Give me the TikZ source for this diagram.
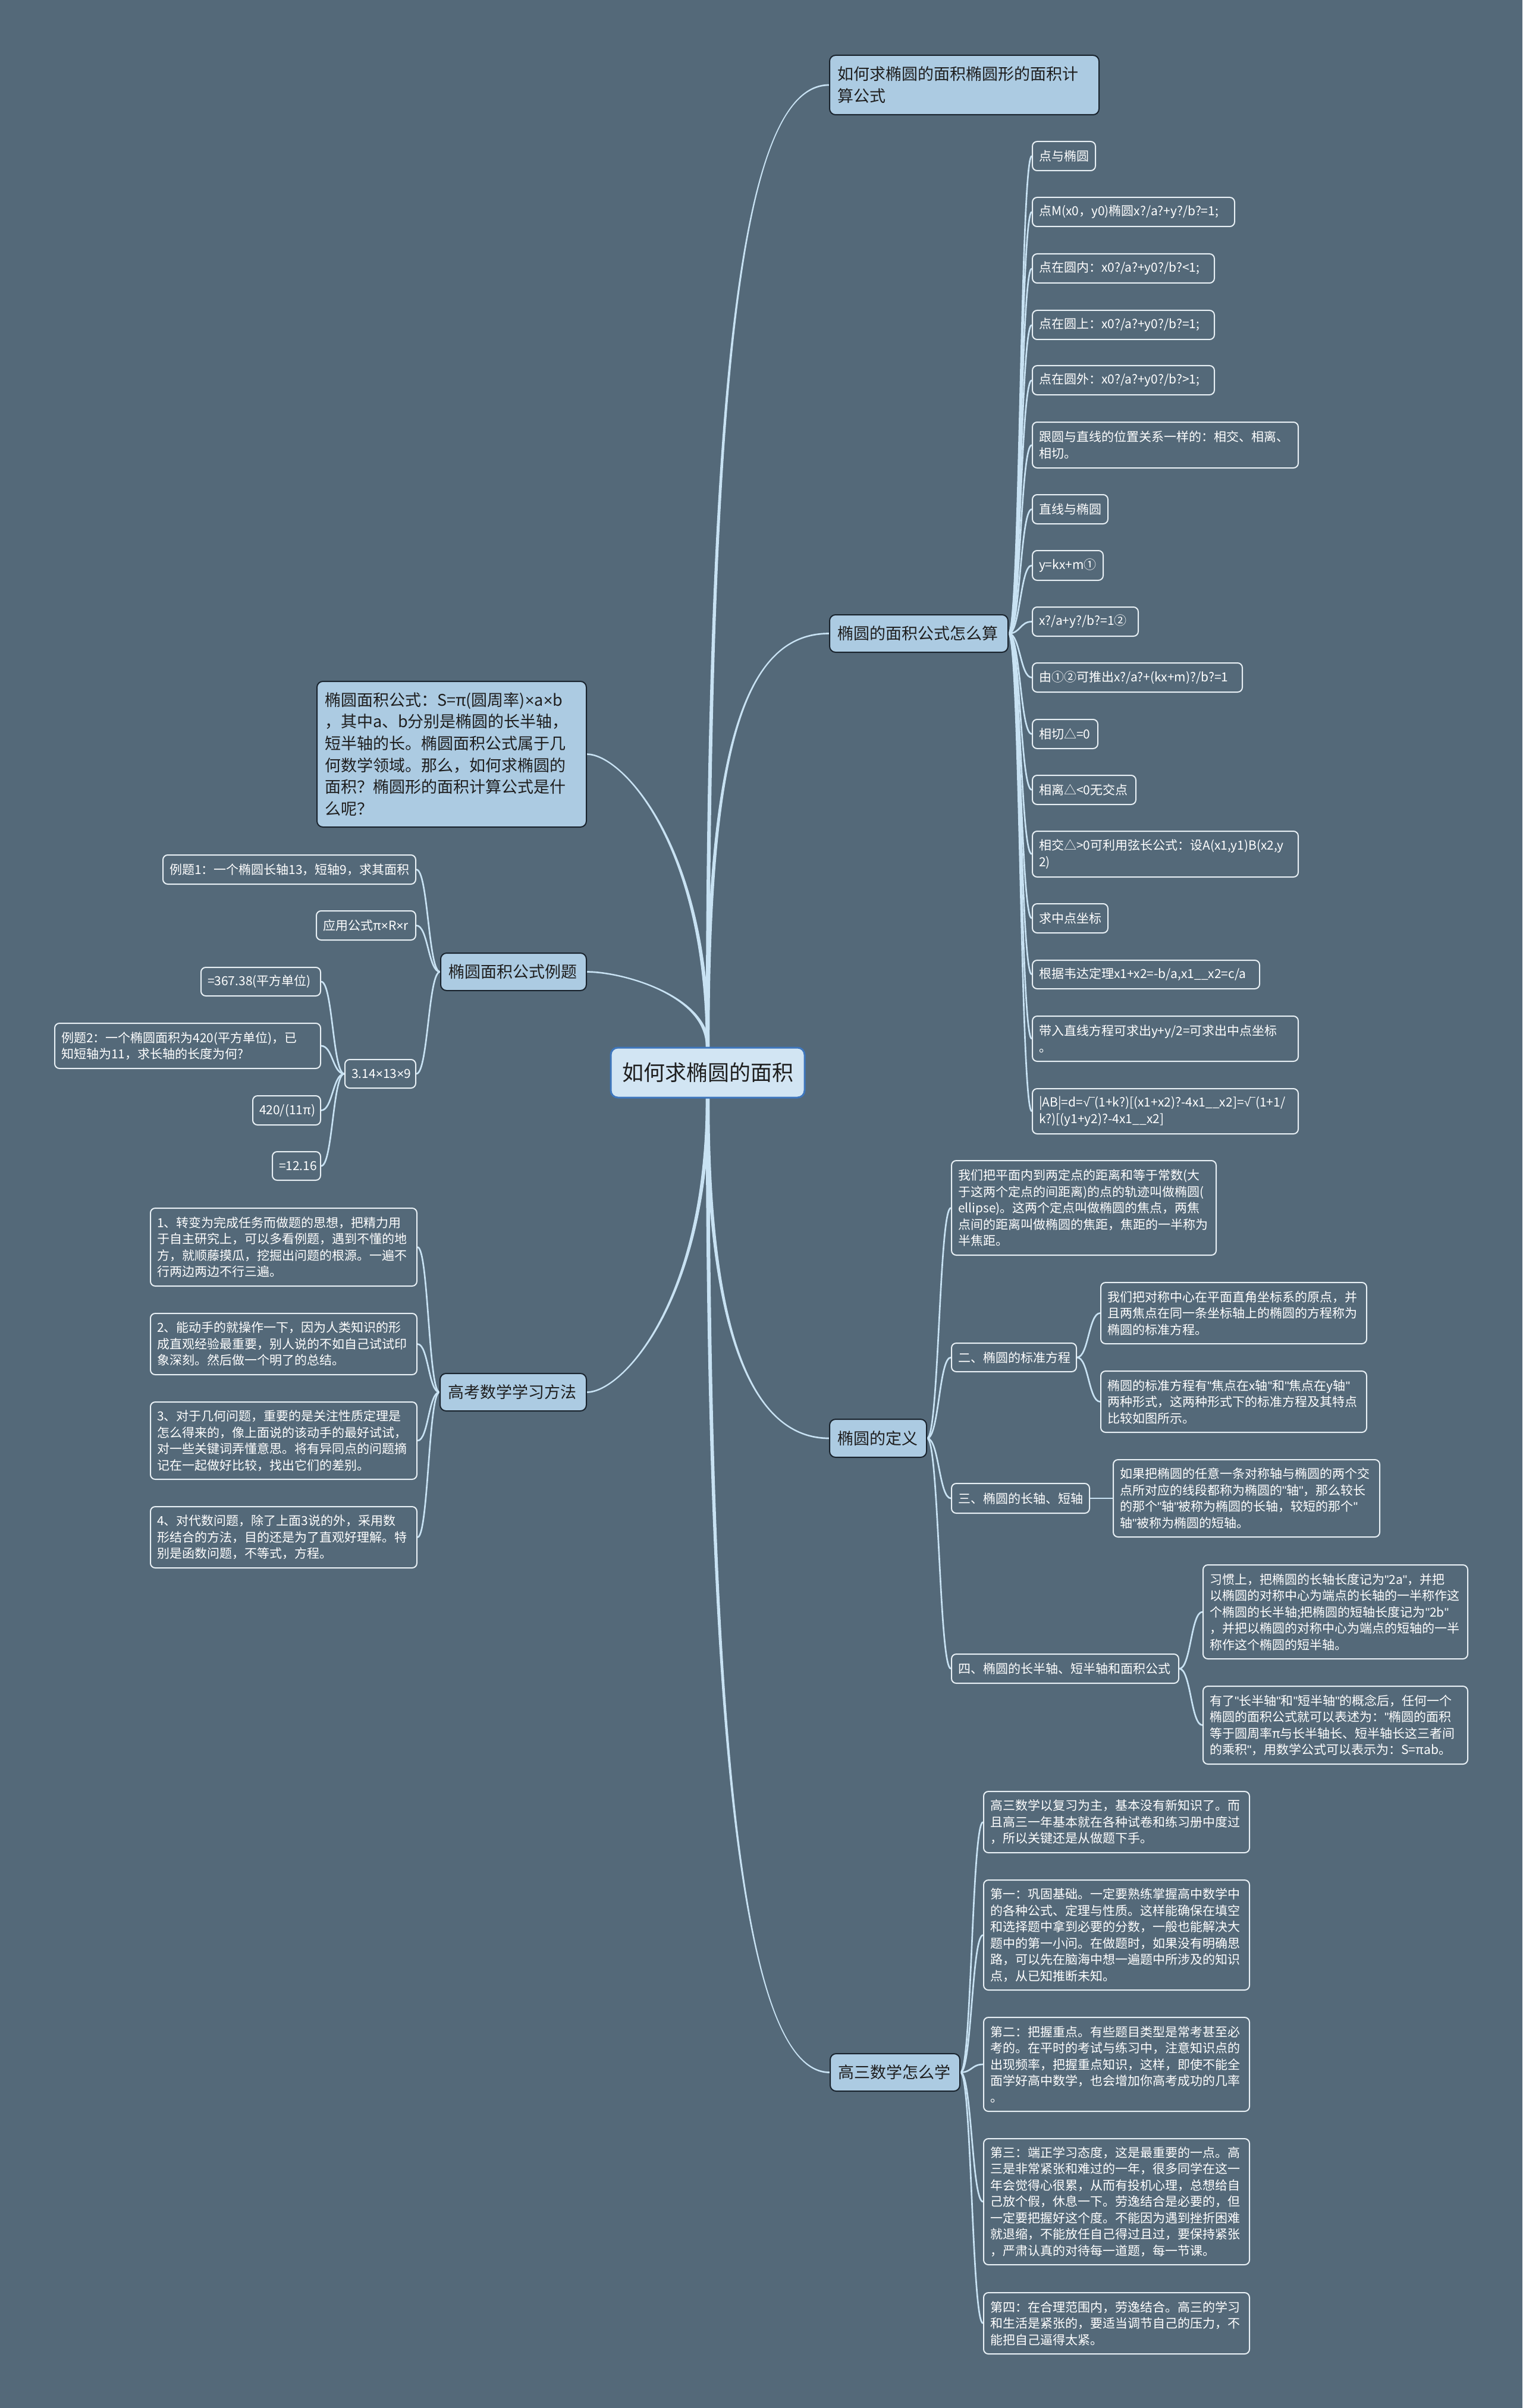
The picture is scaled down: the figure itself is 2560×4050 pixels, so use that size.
\documentclass[tikz,border=0pt]{standalone}
\usepackage{fontspec}
\setmainfont{Noto Sans CJK SC}
\newfontfamily\lat{Liberation Sans}
\usetikzlibrary{calc}
\exhyphenpenalty=10000
\hyphenpenalty=10000
\definecolor{bgcol}{RGB}{84,105,121}
\definecolor{conncol}{RGB}{200,226,243}
\definecolor{maincol}{RGB}{172,203,226}
\definecolor{mainborder}{RGB}{25,35,45}
\definecolor{maintext}{RGB}{30,30,30}
\definecolor{centerfill}{RGB}{210,229,243}
\definecolor{centerborder}{RGB}{62,118,188}
\definecolor{leafcol}{RGB}{232,240,245}
\pgfdeclarelayer{bg}
\pgfsetlayers{bg,main}
\newcommand\fleaf{\fontsize{6.3pt}{8.25pt}\selectfont}
\newcommand\fmain{\fontsize{8.1pt}{11pt}\selectfont}
\newcommand\fcenter{\fontsize{10.8pt}{13pt}\selectfont}
\newcommand\mul{{\lat ×}}
\newcommand\dq{{\lat "}}
\newcommand\sqbar{{\lat √}\kern-0.08em\rule[0.72em]{0.45em}{0.05em}}
\newcommand\linkR[2]{\draw[leafconn] let \p1=(#1.east), \p2=(#2.west) in (\p1) .. controls ({0.5*(\x1)+0.5*(\x2)},\y1) and ({0.5*(\x1)+0.5*(\x2)},\y2) .. (\p2);}
\newcommand\linkL[2]{\draw[leafconn] let \p1=(#1.west), \p2=(#2.east) in (\p1) .. controls ({0.5*(\x1)+0.5*(\x2)},\y1) and ({0.5*(\x1)+0.5*(\x2)},\y2) .. (\p2);}
% #1 start, #2 end, #3 sx, #4 sy, #5 r, #6 a
\newcommand\trunk[6]{\fill[conncol] let \p1=(#1), \p2=(#2) in
 ({(\x1)-(#3)*0.95pt},\y1) .. controls ({(\x1)-(#3)*0.95pt},{(\y2)+(#6)*((\y1)-(\y2))}) and ({(\x1)+(#5)*((\x2)-(\x1))},{(\y2)+(#4)*0.4pt}) .. (\x2,{(\y2)+(#4)*0.4pt})
 -- (\x2,{(\y2)-(#4)*0.4pt}) .. controls ({(\x1)+(#5)*((\x2)-(\x1))},{(\y2)-(#4)*0.4pt}) and ({(\x1)+(#3)*0.95pt},{(\y2)+(#6)*((\y1)-(\y2))}) .. ({(\x1)+(#3)*0.95pt},\y1) -- cycle;}
\begin{document}
\begin{tikzpicture}[x=0.3pt,y=-0.3pt,
 leafconn/.style={draw=conncol,line width=0.8pt},
 leaf/.style 2 args={draw=leafcol,line width=0.6pt,rounded corners=2.4pt,text=white,font=\fleaf,align=left,anchor=north west,inner xsep=3.3pt,inner ysep=1pt,minimum width={(#1)*0.3pt},minimum height={(#2)*0.3pt},text width={(#1-22)*0.3pt}},
 mainnode/.style 2 args={fill=maincol,draw=mainborder,line width=0.6pt,rounded corners=3pt,text=maintext,font=\fmain,align=left,anchor=north west,inner xsep=3.9pt,inner ysep=1pt,minimum width={(#1)*0.3pt},minimum height={(#2)*0.3pt},text width={(#1-26)*0.3pt}},
 rootnode/.style={fill=centerfill,draw=centerborder,line width=0.9pt,rounded corners=3.6pt,text=maintext,font=\fcenter,minimum width=97.8pt,minimum height=25.2pt,inner sep=1pt}]
\begin{pgfonlayer}{bg}
\fill[bgcol] (0,0) rectangle (2560,4050);
\end{pgfonlayer}
\useasboundingbox (0,0) rectangle (2560,4050);

% root
\node[rootnode] (root) at (1190,1804) {如何求椭圆的面积};

% main nodes
\node[mainnode={453}{100}] (m1) at (1394,92) {如何求椭圆的面积椭圆形的面积计\\算公式};
\node[mainnode={300}{63}] (m2) at (1394,1033) {椭圆的面积公式怎么算};
\node[mainnode={163}{64}] (m3) at (1394,2386) {椭圆的定义};
\node[mainnode={218}{63}] (m4) at (1395,3453) {高三数学怎么学};
\node[mainnode={453}{245}] (L1) at (532,1145) {椭圆面积公式：S=π(圆周率)\mul a\mul b\\，其中a、b分别是椭圆的长半轴，\\短半轴的长。椭圆面积公式属于几\\何数学领域。那么，如何求椭圆的\\面积？椭圆形的面积计算公式是什\\么呢？};
\node[mainnode={245}{63}] (L2) at (740,1602) {椭圆面积公式例题};
\node[mainnode={246}{63}] (L3) at (739,2309) {高考数学学习方法};

% m2 leaves
\node[leaf={106}{49}] (a1) at (1735,237) {点与椭圆};
\node[leaf={340}{49}] (a2) at (1735,331) {点M(x0，y0)椭圆x?/a?+y?/b?=1;};
\node[leaf={306}{49}] (a3) at (1735,426) {点在圆内：x0?/a?+y0?/b?<1;};
\node[leaf={306}{49}] (a4) at (1735,521) {点在圆上：x0?/a?+y0?/b?=1;};
\node[leaf={306}{49}] (a5) at (1735,614) {点在圆外：x0?/a?+y0?/b?>1;};
\node[leaf={447}{77}] (a6) at (1735,709) {跟圆与直线的位置关系一样的：相交、相离、\\相切。};
\node[leaf={127}{49}] (a7) at (1735,831) {直线与椭圆};
\node[leaf={119}{50}] (a8) at (1735,925) {y=kx+m①};
\node[leaf={178}{49}] (a9) at (1735,1020) {x?/a+y?/b?=1②};
\node[leaf={353}{49}] (a10) at (1735,1114) {由①②可推出x?/a?+(kx+m)?/b?=1};
\node[leaf={110}{49}] (a11) at (1735,1209) {相切△=0};
\node[leaf={174}{49}] (a12) at (1735,1303) {相离△<0无交点};
\node[leaf={447}{77}] (a13) at (1735,1397) {相交△>0可利用弦长公式：设A(x1,y1)B(x2,y\\2)};
\node[leaf={127}{49}] (a14) at (1735,1519) {求中点坐标};
\node[leaf={382}{48}] (a15) at (1735,1614) {根据韦达定理x1+x2=-b/a,x1\_\_x2=c/a};
\node[leaf={447}{76}] (a16) at (1735,1708) {带入直线方程可求出y+y/2=可求出中点坐标\\。};
\node[leaf={447}{76}] (a17) at (1735,1830) {|AB|=d=\sqbar(1+k?)[(x1+x2)?-4x1\_\_x2]=\sqbar(1+1/\\k?)[(y1+y2)?-4x1\_\_x2]};

% m3 children
\node[leaf={445}{159}] (d1) at (1599,1951) {我们把平面内到两定点的距离和等于常数(大\\于这两个定点的间距离)的点的轨迹叫做椭圆(\\ellipse)。这两个定点叫做椭圆的焦点，两焦\\点间的距离叫做椭圆的焦距，焦距的一半称为\\半焦距。};
\node[leaf={210}{48}] (d2) at (1599,2258) {二、椭圆的标准方程};
\node[leaf={447}{103}] (d2a) at (1850,2156) {我们把对称中心在平面直角坐标系的原点，并\\且两焦点在同一条坐标轴上的椭圆的方程称为\\椭圆的标准方程。};
\node[leaf={447}{103}] (d2b) at (1850,2305) {椭圆的标准方程有\dq 焦点在x轴\dq 和\dq 焦点在y轴\dq\\两种形式，这两种形式下的标准方程及其特点\\比较如图所示。};
\node[leaf={232}{50}] (d3) at (1599,2494) {三、椭圆的长轴、短轴};
\node[leaf={448}{130}] (d3a) at (1871,2454) {如果把椭圆的任意一条对称轴与椭圆的两个交\\点所对应的线段都称为椭圆的\dq 轴\dq ，那么较长\\的那个\dq 轴\dq 被称为椭圆的长轴，较短的那个\dq\\轴\dq 被称为椭圆的短轴。};
\node[leaf={382}{49}] (d4) at (1599,2781) {四、椭圆的长半轴、短半轴和面积公式};
\node[leaf={445}{158}] (d4a) at (2022,2631) {习惯上，把椭圆的长轴长度记为\dq 2a\dq ，并把\\以椭圆的对称中心为端点的长轴的一半称作这\\个椭圆的长半轴;把椭圆的短轴长度记为\dq 2b\dq\\，并把以椭圆的对称中心为端点的短轴的一半\\称作这个椭圆的短半轴。};
\node[leaf={445}{131}] (d4b) at (2022,2835) {有了\dq 长半轴\dq 和\dq 短半轴\dq 的概念后，任何一个\\椭圆的面积公式就可以表述为：\dq 椭圆的面积\\等于圆周率π与长半轴长、短半轴长这三者间\\的乘积\dq ，用数学公式可以表示为：S=πab。};

% m4 children
\node[leaf={447}{103}] (h1) at (1653,3012) {高三数学以复习为主，基本没有新知识了。而\\且高三一年基本就在各种试卷和练习册中度过\\，所以关键还是从做题下手。};
\node[leaf={447}{185}] (h2) at (1653,3161) {第一：巩固基础。一定要熟练掌握高中数学中\\的各种公式、定理与性质。这样能确保在填空\\和选择题中拿到必要的分数，一般也能解决大\\题中的第一小问。在做题时，如果没有明确思\\路，可以先在脑海中想一遍题中所涉及的知识\\点，从已知推断未知。};
\node[leaf={447}{158}] (h3) at (1653,3392) {第二：把握重点。有些题目类型是常考甚至必\\考的。在平时的考试与练习中，注意知识点的\\出现频率，把握重点知识，这样，即使不能全\\面学好高中数学，也会增加你高考成功的几率\\。};
\node[leaf={447}{212}] (h4) at (1653,3596) {第三：端正学习态度，这是最重要的一点。高\\三是非常紧张和难过的一年，很多同学在这一\\年会觉得心很累，从而有投机心理，总想给自\\己放个假，休息一下。劳逸结合是必要的，但\\一定要把握好这个度。不能因为遇到挫折困难\\就退缩，不能放任自己得过且过，要保持紧张\\，严肃认真的对待每一道题，每一节课。};
\node[leaf={447}{103}] (h5) at (1653,3855) {第四：在合理范围内，劳逸结合。高三的学习\\和生活是紧张的，要适当调节自己的压力，不\\能把自己逼得太紧。};

% L2 children
\node[leaf={425}{49}] (e1) at (273,1437) {例题1：一个椭圆长轴13，短轴9，求其面积};
\node[leaf={167}{49}] (e2) at (531,1531) {应用公式π\mul R\mul r};
\node[leaf={119}{48}] (e3) at (579,1781) {3.14\mul 13\mul 9};
\node[leaf={201}{48}] (e3a) at (337,1626) {=367.38(平方单位)};
\node[leaf={447}{76}] (e3b) at (91,1720) {例题2：一个椭圆面积为420(平方单位)，已\\知短轴为11，求长轴的长度为何?};
\node[leaf={114}{49}] (e3c) at (424,1842) {420/(11π)};
\node[leaf={81}{48}] (e3d) at (457,1936) {=12.16};

% L3 children
\node[leaf={448}{131}] (s1) at (252,2031) {1、转变为完成任务而做题的思想，把精力用\\于自主研究上，可以多看例题，遇到不懂的地\\方，就顺藤摸瓜，挖掘出问题的根源。一遍不\\行两边两边不行三遍。};
\node[leaf={448}{103}] (s2) at (252,2208) {2、能动手的就操作一下，因为人类知识的形\\成直观经验最重要，别人说的不如自己试试印\\象深刻。然后做一个明了的总结。};
\node[leaf={448}{130}] (s3) at (252,2357) {3、对于几何问题，重要的是关注性质定理是\\怎么得来的，像上面说的该动手的最好试试，\\对一些关键词弄懂意思。将有异同点的问题摘\\记在一起做好比较，找出它们的差别。};
\node[leaf={448}{103}] (s4) at (252,2533) {4、对代数问题，除了上面3说的外，采用数\\形结合的方法，目的还是为了直观好理解。特\\别是函数问题，不等式，方程。};

% connectors
\begin{pgfonlayer}{bg}
\trunk{root.north}{m1.west}{1}{1}{0.3}{0.28}
\trunk{root.north}{m2.west}{1}{1}{0.3}{0.28}
\trunk{root.south}{m3.west}{1}{-1}{0.4}{0.28}
\trunk{root.south}{m4.west}{1}{-1}{0.35}{0.28}
\trunk{root.north}{L1.east}{-1}{1}{0.7}{0.32}
\trunk{root.north}{L2.east}{-1}{1}{0.7}{0.32}
\trunk{root.south}{L3.east}{-1}{-1}{0.7}{0.32}
\foreach \q in {1,...,17} {\linkR{m2}{a\q}}
\foreach \q in {d1,d2,d3,d4} {\linkR{m3}{\q}}
\linkR{d2}{d2a}
\linkR{d2}{d2b}
\linkR{d3}{d3a}
\linkR{d4}{d4a}
\linkR{d4}{d4b}
\foreach \q in {h1,h2,h3,h4,h5} {\linkR{m4}{\q}}
\foreach \q in {e1,e2,e3} {\linkL{L2}{\q}}
\foreach \q in {e3a,e3b,e3c,e3d} {\linkL{e3}{\q}}
\foreach \q in {s1,s2,s3,s4} {\linkL{L3}{\q}}
\end{pgfonlayer}
\end{tikzpicture}
\end{document}
